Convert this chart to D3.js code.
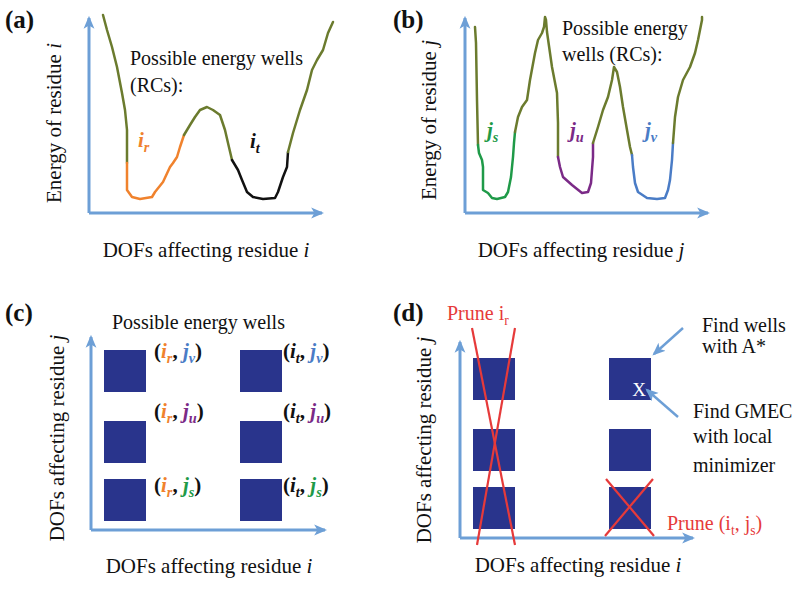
<!DOCTYPE html>
<html><head><meta charset="utf-8">
<script src="https://cdn.jsdelivr.net/npm/d3@7"></script>
<style>body{margin:0;background:#fff}svg{display:block}text{font-family:"Liberation Serif","Times New Roman",serif}</style>
</head><body><svg id="chart" width="800" height="591"></svg>
<script>
// ---------------- DATA ----------------
const panelLabels = ["(a)", "(b)", "(c)", "(d)"];
const wellNamesI = ["r", "t"];
const wellNamesJ = ["s", "u", "v"];
// energy landscape of residue i : [DOF, energy] segments
const curveA = [
  {seg: "edge", pts: [[14,198],[18,183],[23,166],[28,146],[33,120],[36,103],[38,83],[38,50]]},
  {seg: "r", pts: [[38,50],[38,40],[38,23],[43,16],[51,14],[63,16],[66,21],[74,31],[81,46],[84,50],[88,56],[91,66],[95,78]]},
  {seg: "edge", pts: [[95,78],[101,88],[106,96],[111,103],[118,106],[124,103],[131,98],[136,83],[139,70],[143,53]]},
  {seg: "t", pts: [[143,53],[149,43],[153,33],[158,21],[164,16],[174,14],[186,15],[189,21],[194,36],[198,46],[199,61]]},
  {seg: "edge", pts: [[199,61],[204,80],[211,103],[218,123],[223,143],[228,153],[234,163],[239,180],[244,191]]}
];
// energy landscape of residue j
const curveB = [
  {seg: "edge", pts: [[10,186],[11,170],[12,113],[13,68]]},
  {seg: "s", pts: [[13,68],[14,60],[17,53],[18,46],[18,36],[18,23],[23,20],[27,15],[32,14],[40,16],[43,21],[46,36],[48,56],[49,70],[50,81]]},
  {seg: "edge", pts: [[50,81],[53,96],[57,106],[62,113],[65,133],[70,160],[73,173],[77,180],[79,186],[80,196],[81,193],[82,181],[87,146],[92,120],[93,90],[93,56]]},
  {seg: "u", pts: [[93,56],[95,46],[98,36],[107,28],[117,20],[123,21],[126,30],[127,43],[128,56],[128,70]]},
  {seg: "edge", pts: [[128,70],[133,86],[138,103],[143,116],[147,133],[149,146],[152,141],[155,126],[158,106],[162,83],[165,66],[167,58]]},
  {seg: "v", pts: [[167,58],[168,46],[170,30],[173,21],[182,15],[192,14],[200,15],[203,23],[205,33],[207,53],[208,70]]},
  {seg: "edge", pts: [[208,70],[210,96],[213,116],[218,133],[225,146],[230,160],[233,173],[237,193],[237,196]]}
];
// well-pair grid (DOF positions of well centres)
const wellPosI = [34, 170];
const wellPosJ = [30, 88, 159];
const wellSize = 42;
const prunedWellI = "r";
const prunedPair = ["t", "s"];
const gmecPair = ["t", "v"];

// ---------------- STYLE ----------------
const col = {edge: "#6b7b2e", r: "#f0822d", t: "#111111", s: "#1f9a48", u: "#7b2a87", v: "#4a7cc6"};
const axisCol = "#6d9fd6", boxCol = "#29348c", red = "#e63a3a";
const FS = 20, AFS = 21;

const svg = d3.select("#chart");
const defs = svg.append("defs");
defs.append("marker").attr("id", "ah").attr("viewBox", "0 0 12 12")
  .attr("refX", 10).attr("refY", 6).attr("markerWidth", 13).attr("markerHeight", 13)
  .attr("markerUnits", "userSpaceOnUse").attr("orient", "auto")
  .append("path").attr("d", "M0,1 L12,6 L0,11 L3,6 Z").attr("fill", axisCol);

function rich(g, x, y, parts, opts = {}) {
  const size = opts.size || FS;
  const t = g.append("text").attr("x", x).attr("y", y).attr("font-size", size)
    .attr("fill", opts.fill || "#111").attr("text-anchor", opts.anchor || "start");
  if (opts.rotate) t.attr("transform", `rotate(-90,${x},${y})`);
  parts.forEach(p => {
    const ts = t.append("tspan").text(p.t);
    if (p.c) ts.attr("fill", p.c);
    if (p.i) ts.attr("font-style", "italic");
    if (p.b) ts.attr("font-weight", "bold");
    if (p.sub) ts.attr("font-size", size * 0.68).attr("dy", 5);
    if (p.up) ts.attr("dy", -5);
  });
  return t;
}

function axes(g, x, y) {
  const [x0, x1] = x.range(), [y0, y1] = y.range();
  g.append("line").attr("x1", x0).attr("y1", y0).attr("x2", x0).attr("y2", y1)
    .attr("stroke", axisCol).attr("stroke-width", 3).attr("marker-end", "url(#ah)");
  g.append("line").attr("x1", x0).attr("y1", y0).attr("x2", x1).attr("y2", y0)
    .attr("stroke", axisCol).attr("stroke-width", 3).attr("marker-end", "url(#ah)");
}

function drawCurve(g, data, x, y) {
  const line = d3.line().x(d => x(d[0])).y(d => y(d[1]));
  g.selectAll("path.seg").data(data).join("path").attr("class", "seg")
    .attr("d", d => line(d.pts)).attr("fill", "none")
    .attr("stroke", d => col[d.seg]).attr("stroke-width", 2.5)
    .attr("stroke-linejoin", "round").attr("stroke-linecap", "round");
}

// panel letters
const letterPos = [[5, 28], [393, 28], [5, 321], [393, 321]];
panelLabels.forEach((l, k) => svg.append("text").attr("x", letterPos[k][0]).attr("y", letterPos[k][1])
  .attr("font-size", 25).attr("font-weight", "bold").attr("fill", "#111").text(l));

// ---------- (a) ----------
{
  const g = svg.append("g");
  const x = d3.scaleLinear().domain([0, 233]).range([89, 322]);
  const y = d3.scaleLinear().domain([0, 195]).range([213, 18]);
  axes(g, x, y);
  drawCurve(g, curveA, x, y);
  rich(g, 130, 65, [{t: "Possible energy wells"}]);
  rich(g, 130, 92, [{t: "(RCs):"}]);
  rich(g, 138, 147, [{t: "i", i: 1, b: 1, c: col.r}, {t: "r", i: 1, b: 1, c: col.r, sub: 1}], {size: 21});
  rich(g, 250, 148, [{t: "i", i: 1, b: 1, c: col.t}, {t: "t", i: 1, b: 1, c: col.t, sub: 1}], {size: 21});
  rich(g, 206, 257, [{t: "DOFs affecting residue "}, {t: "i", i: 1}], {anchor: "middle", size: AFS});
  rich(g, 61, 123, [{t: "Energy of residue "}, {t: "i", i: 1}], {anchor: "middle", rotate: 1, size: AFS});
}
// ---------- (b) ----------
{
  const g = svg.append("g");
  const x = d3.scaleLinear().domain([0, 243]).range([465, 708]);
  const y = d3.scaleLinear().domain([0, 195]).range([213, 18]);
  axes(g, x, y);
  drawCurve(g, curveB, x, y);
  rich(g, 562, 35, [{t: "Possible energy"}]);
  rich(g, 562, 61, [{t: "wells (RCs):"}]);
  [["s", 487], ["u", 570], ["v", 645]].forEach(([w, px]) =>
    rich(g, px, 137, [{t: "j", i: 1, b: 1, c: col[w]}, {t: w, i: 1, b: 1, c: col[w], sub: 1}], {size: 21}));
  rich(g, 581, 257, [{t: "DOFs affecting residue "}, {t: "j", i: 1}], {anchor: "middle", size: AFS});
  rich(g, 436, 120, [{t: "Energy of residue "}, {t: "j", i: 1}], {anchor: "middle", rotate: 1, size: AFS});
}

function grid(g, x, y) {
  const cells = [];
  wellNamesI.forEach((wi, a) => wellNamesJ.forEach((wj, b) => cells.push({wi, wj, cx: wellPosI[a], cy: wellPosJ[b]})));
  g.selectAll("rect.cell").data(cells).join("rect").attr("class", "cell")
    .attr("x", d => x(d.cx - wellSize / 2)).attr("y", d => y(d.cy + wellSize / 2))
    .attr("width", d => x(d.cx + wellSize / 2) - x(d.cx - wellSize / 2))
    .attr("height", d => y(d.cy - wellSize / 2) - y(d.cy + wellSize / 2))
    .attr("fill", boxCol);
  return cells;
}

// ---------- (c) ----------
{
  const g = svg.append("g");
  const x = d3.scaleLinear().domain([0, 234]).range([91, 325]);
  const y = d3.scaleLinear().domain([0, 193]).range([530, 337]);
  axes(g, x, y);
  const cells = grid(g, x, y);
  const rowOff = {s: 13, u: -3, v: 8};
  cells.forEach(d => {
    const lx = x(d.cx + wellSize / 2) + (d.wi === "r" ? 8 : 1);
    const ly = y(d.cy + wellSize / 2) + rowOff[d.wj];
    rich(g, lx, ly, [{t: "(", b: 1}, {t: "i", i: 1, b: 1, c: col[d.wi]}, {t: d.wi, i: 1, b: 1, c: col[d.wi], sub: 1},
      {t: ", ", b: 1, up: 1}, {t: "j", i: 1, b: 1, c: col[d.wj]}, {t: d.wj, i: 1, b: 1, c: col[d.wj], sub: 1}, {t: ")", b: 1, up: 1}], {size: 21});
  });
  rich(g, 112, 329, [{t: "Possible energy wells"}]);
  rich(g, 209, 573, [{t: "DOFs affecting residue "}, {t: "i", i: 1}], {anchor: "middle", size: AFS});
  rich(g, 64, 438, [{t: "DOFs affecting residue "}, {t: "j", i: 1}], {anchor: "middle", rotate: 1, size: AFS});
}
// ---------- (d) ----------
{
  const g = svg.append("g");
  const x = d3.scaleLinear().domain([0, 233]).range([460, 693]);
  const y = d3.scaleLinear().domain([0, 196]).range([538, 342]);
  axes(g, x, y);
  grid(g, x, y);
  const pi = wellPosI[wellNamesI.indexOf(prunedWellI)];
  const ln = (x1, y1, x2, y2) => g.append("line").attr("x1", x1).attr("y1", y1).attr("x2", x2).attr("y2", y2)
    .attr("stroke", red).attr("stroke-width", 2.2);
  ln(x(pi - 22), y(210), x(pi + 21), y(-7));
  ln(x(pi + 21), y(210), x(pi - 17), y(-7));
  const ppx = wellPosI[wellNamesI.indexOf(prunedPair[0])], ppy = wellPosJ[wellNamesJ.indexOf(prunedPair[1])];
  ln(x(ppx - 24), y(ppy + 29), x(ppx + 24), y(ppy - 28));
  ln(x(ppx + 23), y(ppy + 29), x(ppx - 25), y(ppy - 28));
  const gx = wellPosI[wellNamesI.indexOf(gmecPair[0])], gy = wellPosJ[wellNamesJ.indexOf(gmecPair[1])];
  g.append("text").attr("x", x(gx + 9)).attr("y", y(gy - 17)).attr("text-anchor", "middle")
    .attr("font-size", 19).attr("fill", "#fff").text("X");
  const arrow = (x1, y1, x2, y2) => g.append("line").attr("x1", x1).attr("y1", y1).attr("x2", x2).attr("y2", y2)
    .attr("stroke", axisCol).attr("stroke-width", 2.4).attr("marker-end", "url(#ah)");
  arrow(x(gx + 53), y(gy + 51), x(gx + 24), y(gy + 25));
  arrow(x(gx + 48), y(gy - 38), x(gx + 17), y(gy - 11));
  rich(g, 447, 320, [{t: "Prune i"}, {t: "r", sub: 1}], {fill: red});
  rich(g, 702, 332, [{t: "Find wells"}]);
  rich(g, 702, 353, [{t: "with A*"}]);
  rich(g, 693, 418, [{t: "Find GMEC"}]);
  rich(g, 693, 443, [{t: "with local"}]);
  rich(g, 693, 472, [{t: "minimizer"}]);
  rich(g, 667, 530, [{t: "Prune (i"}, {t: "t", sub: 1}, {t: ", j", up: 1}, {t: "s", sub: 1}, {t: ")", up: 1}], {fill: red});
  rich(g, 578, 572, [{t: "DOFs affecting residue "}, {t: "i", i: 1}], {anchor: "middle", size: AFS});
  rich(g, 431, 440, [{t: "DOFs affecting residue "}, {t: "j", i: 1}], {anchor: "middle", rotate: 1, size: AFS});
}
</script></body></html>
